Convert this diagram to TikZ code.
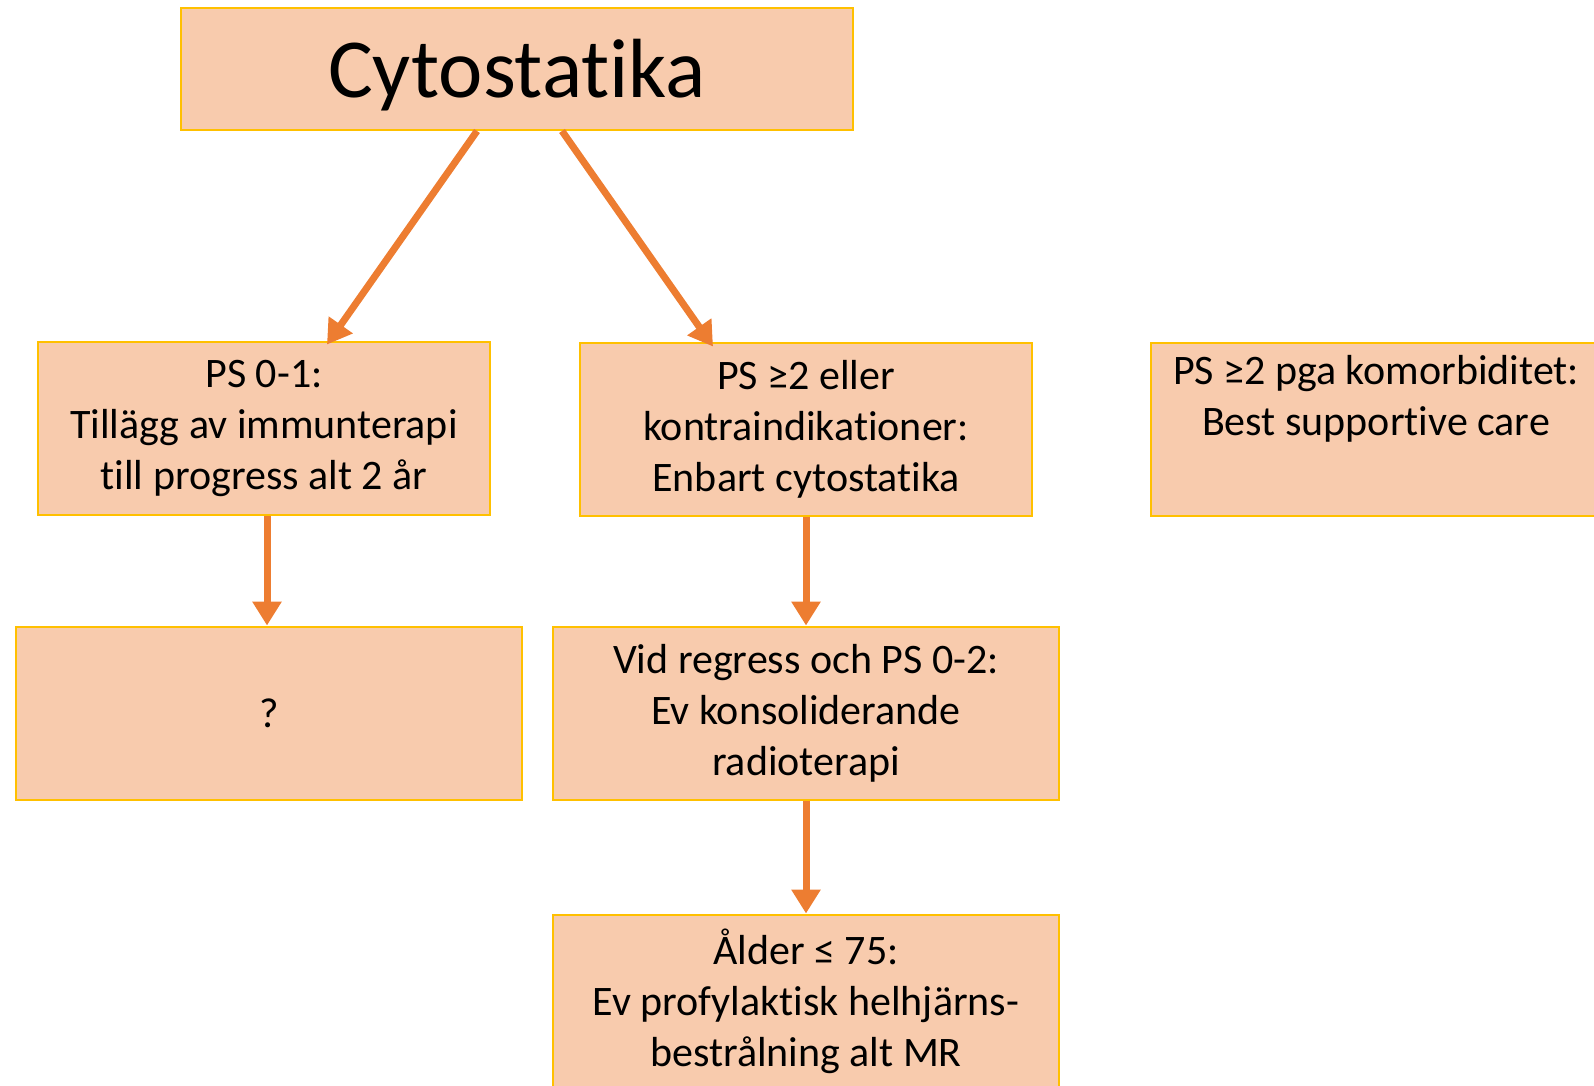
\documentclass[tikz,border=0pt]{standalone}
\usepackage{fontspec}
\setmainfont{Carlito}[Ligatures={NoCommon}]
\usetikzlibrary{arrows.meta,positioning}
\definecolor{boxfill}{HTML}{F8CBAD}
\definecolor{boxline}{HTML}{FFC000}
\definecolor{arrowcol}{HTML}{ED7D31}
\begin{document}
\begin{tikzpicture}[x=1pt,y=-1pt,>={Triangle[width=28pt,length=24pt]},
  box/.style={draw=boxline,fill=boxfill,line width=2pt,align=center,inner sep=0pt,
    minimum height=173pt,font=\fontsize{42}{51}\selectfont},
  arr/.style={->,draw=arrowcol,line width=7pt}]
\useasboundingbox (0,0) rectangle (1594,1085);
\node[box,minimum width=672pt,minimum height=122pt,text height=70pt,font=\fontsize{84}{100}\selectfont] (cyto) at (517,69) {Cytostatika};
\node[box,minimum width=452pt] (psA) at (264,428) {PS 0-1:\\Tillägg av immunterapi\\till progress alt 2 år};
\node[box,minimum width=452pt] (psB) at (806,429) {PS ≥2 eller\\kontraindikationer:\\Enbart cytostatika};
\node[box,minimum width=450pt] (psC) at (1376,429) {PS ≥2 pga komorbiditet:\\Best supportive care\\\strut};
\node[box,minimum width=506pt] (quest) at (269,713) {?};
\node[box,minimum width=506pt] (regr) at (806,713) {Vid regress och PS 0-2:\\Ev konsoliderande\\radioterapi};
\node[box,minimum width=506pt] (alder) at (806,1001) {Ålder ≤ 75:\\Ev profylaktisk helhjärns-\\bestrålning alt MR};
% arrows
\path ([xshift=-40pt]cyto.south) coordinate (c1)
      ([xshift=45pt]cyto.south) coordinate (c2)
      ([xshift=63pt,yshift=-4pt]psA.north) coordinate (a1)
      ([xshift=-93pt,yshift=-5pt]psB.north) coordinate (b1)
      ([xshift=3pt]psA.south) coordinate (a2);
\draw[arr] (c1)--(a1);
\draw[arr] (c2)--(b1);
\draw[arr] (a2)--(a2 |- quest.north);
\draw[arr] (psB.south)--(regr.north);
\draw[arr] (regr.south)--(alder.north);
\end{tikzpicture}
\end{document}
